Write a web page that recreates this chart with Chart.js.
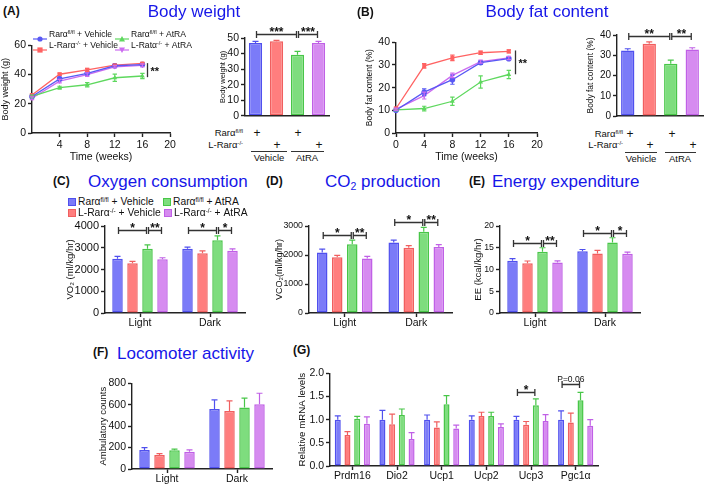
<!DOCTYPE html>
<html>
<head>
<meta charset="utf-8">
<script src="https://cdn.jsdelivr.net/npm/chart.js@4.4.1/dist/chart.umd.min.js"></script>
<style>
  body { margin: 0; width: 709px; height: 487px; position: relative; overflow: hidden; background: #fff;
         font-family: "Liberation Sans", Arial, sans-serif; color: #111; }
  canvas { position: absolute; }
  .t { position: absolute; white-space: nowrap; line-height: 1; }
  .h { color: #1616e8; font-size: 17px; }
  .p { font-weight: bold; font-size: 12px; }
  .sup { font-size: 0.62em; vertical-align: 0.5em; line-height: 0; }
  .sub { font-size: 0.62em; vertical-align: -0.3em; line-height: 0; }
  .ln { position: absolute; height: 1px; background: #333; }
  .bx { position: absolute; width: 6px; height: 6px; border: 1.5px solid; }
</style>
</head>
<body>
<script>
// ---- values ----
const groupNames = ['Rarα fl/fl + Vehicle', 'L-Rarα-/- + Vehicle', 'Rarα fl/fl + AtRA', 'L-Rarα-/- + AtRA'];
const weeks = [0, 4, 8, 12, 16];
const weekTicksA = [4, 8, 12, 16, 20];
const weekTicksB = [0, 4, 8, 12, 16, 20];

// (A) body weight (g) over time
const bwFlVeh = [25.0, 37.0, 40.8, 46.0, 46.8];
const bwKoVeh = [26.0, 40.2, 43.2, 46.5, 47.6];
const bwFlAtra = [25.0, 31.0, 33.0, 37.8, 39.0];
const bwKoAtra = [23.8, 35.5, 40.0, 45.3, 46.3];
const bwFlVehErr = [1.0, 1.2, 1.0, 0.8, 0.8];
const bwKoVehErr = [0.8, 0.8, 1.0, 0.6, 0.5];
const bwFlAtraErr = [1.0, 1.0, 1.5, 2.5, 1.8];
const bwKoAtraErr = [1.0, 1.2, 1.2, 0.8, 1.0];
// (A) final body weight
const bwFinal = [46.8, 47.9, 39.3, 46.8];
const bwFinalErr = [1.0, 0.6, 2.1, 1.0];

// (B) body fat content (%) over time
const fatFlVeh = [10.0, 18.0, 23.5, 31.0, 32.8];
const fatKoVeh = [10.8, 29.6, 33.1, 35.4, 36.0];
const fatFlAtra = [10.2, 10.8, 14.0, 22.5, 25.8];
const fatKoAtra = [10.5, 16.5, 25.4, 31.5, 33.1];
const fatFlVehErr = [0.5, 1.5, 2.0, 0.7, 0.7];
const fatKoVehErr = [0.6, 1.0, 1.2, 0.7, 0.7];
const fatFlAtraErr = [0.5, 1.0, 1.8, 2.7, 1.8];
const fatKoAtraErr = [0.5, 1.5, 1.0, 0.7, 0.7];
// (B) final body fat
const fatFinal = [32.4, 35.7, 25.8, 32.8];
const fatFinalErr = [0.8, 0.9, 1.8, 0.9];

const phases = ['Light', 'Dark'];
// (C) VO2, ml/kg/hr  (one value per group)
const vo2Light = [2496, 2285, 2950, 2466];
const vo2Dark = [2950, 2752, 3350, 2857];
const vo2LightErr = [105, 90, 180, 75];
const vo2DarkErr = [75, 105, 195, 90];
// (D) VCO2, ml/kg/hr
const vco2Light = [2090, 1920, 2375, 1880];
const vco2Dark = [2430, 2250, 2800, 2280];
const vco2LightErr = [110, 70, 135, 70];
const vco2DarkErr = [80, 70, 150, 80];
// (E) energy expenditure, kcal/kg/hr
const eeLight = [12.0, 11.45, 14.1, 11.6];
const eeDark = [14.2, 13.7, 16.2, 13.6];
const eeLightErr = [0.5, 0.5, 0.9, 0.4];
const eeDarkErr = [0.4, 0.7, 1.1, 0.4];
// (F) ambulatory counts
const ambLight = [177, 131, 174, 160];
const ambDark = [560, 541, 573, 604];
const ambLightErr = [22, 12, 12, 18];
const ambDarkErr = [85, 95, 88, 103];

// (G) relative mRNA levels
const genes = ['Prdm16', 'Dio2', 'Ucp1', 'Ucp2', 'Ucp3', 'Pgc1α'];
const mFlVeh = [1.0, 1.0, 1.0, 1.0, 1.0, 1.0];
const mKoVeh = [0.67, 0.9, 0.83, 1.08, 0.89, 0.94];
const mFlAtra = [1.02, 1.1, 1.33, 1.08, 1.31, 1.42];
const mKoAtra = [0.91, 0.58, 0.81, 0.84, 0.97, 0.87];
const mFlVehErr = [0.08, 0.2, 0.1, 0.08, 0.07, 0.19];
const mKoVehErr = [0.07, 0.22, 0.12, 0.08, 0.07, 0.2];
const mFlAtraErr = [0.05, 0.13, 0.19, 0.08, 0.14, 0.17];
const mKoAtraErr = [0.15, 0.14, 0.07, 0.07, 0.14, 0.13];

// ---- styles ----
const FONT = '"Liberation Sans", Arial, sans-serif';
const AX = '#222';
const fills = ['#7b7bf8', '#ff7e7e', '#7edd7e', '#d68bf0'];
const edges = ['#5050ee', '#f05f5f', '#48c648', '#c060e6'];
const lineCols = ['#5858f4', '#ff6262', '#5ed85e', '#cc6cf0'];
const pointStyles = ['circle', 'rect', 'triangle', 'triangle'];
const pointRot = [0, 0, 0, 180];

Chart.defaults.font.family = FONT;
Chart.defaults.color = '#111';
Chart.defaults.animation = false;
Chart.defaults.plugins.legend.display = false;
Chart.defaults.plugins.tooltip.enabled = false;

// ---- helpers ----
function T(html, x, y, cls, css, align) {
  const d = document.createElement('div');
  d.className = 't ' + cls;
  d.innerHTML = html;
  d.style.cssText += css || '';
  d.style.left = x + 'px';
  d.style.top = y + 'px';
  const tx = align === 'r' ? '-100%' : align === 'c' ? '-50%' : '0';
  d.style.transform = 'translate(' + tx + ',-50%)';
  document.body.appendChild(d);
}
function L(x1, x2, y) {
  const d = document.createElement('div');
  d.className = 'ln';
  d.style.left = x1 + 'px'; d.style.top = y + 'px'; d.style.width = (x2 - x1) + 'px';
  document.body.appendChild(d);
}
function B(x, y, i) {
  const d = document.createElement('div');
  d.className = 'bx';
  d.style.left = x + 'px'; d.style.top = (y - 4) + 'px';
  d.style.background = fills[i]; d.style.borderColor = edges[i];
  document.body.appendChild(d);
}
function M(x, y, i) {
  const shapes = [
    '<circle cx="7" cy="4" r="2.6" fill="' + lineCols[0] + '"/>',
    '<rect x="4.4" y="1.4" width="5.2" height="5.2" fill="' + lineCols[1] + '"/>',
    '<polygon points="7,1 10,6.5 4,6.5" fill="' + lineCols[2] + '"/>',
    '<polygon points="7,7 10,1.5 4,1.5" fill="' + lineCols[3] + '"/>'
  ];
  const d = document.createElement('div');
  d.className = 't';
  d.style.left = (x - 7) + 'px'; d.style.top = (y - 4) + 'px';
  d.innerHTML = '<svg width="14" height="8"><line x1="0" y1="4" x2="14" y2="4" stroke="' + lineCols[i] +
    '" stroke-width="1.2"/>' + shapes[i] + '</svg>';
  document.body.appendChild(d);
}
function canvasFor(box) {
  const c = document.createElement('canvas');
  const w = box.r - box.l + box.wy + box.pr;
  const h = box.b - box.t + box.pt + box.hx;
  c.width = w; c.height = h;
  c.style.left = (box.l - box.wy) + 'px';
  c.style.top = (box.t - box.pt) + 'px';
  c.style.width = w + 'px'; c.style.height = h + 'px';
  document.body.appendChild(c);
  return c;
}

// error bars, up only for bars, both ways for lines
function errorBars(errs, both, cap) {
  return {
    id: 'errs',
    afterDatasetsDraw(chart) {
      const ctx = chart.ctx, y = chart.scales.y;
      ctx.save();
      errs.forEach((e, i) => {
        const ds = chart.data.datasets[i];
        ctx.strokeStyle = both ? lineCols[i] : edges[i];
        ctx.lineWidth = 1.2;
        chart.getDatasetMeta(i).data.forEach((el, j) => {
          const v = typeof ds.data[j] === 'object' ? ds.data[j].y : ds.data[j];
          const top = y.getPixelForValue(v + e[j]);
          const bot = both ? y.getPixelForValue(v - e[j]) : el.y;
          ctx.beginPath();
          ctx.moveTo(el.x, bot); ctx.lineTo(el.x, top);
          ctx.moveTo(el.x - cap, top); ctx.lineTo(el.x + cap, top);
          if (both) { ctx.moveTo(el.x - cap, bot); ctx.lineTo(el.x + cap, bot); }
          ctx.stroke();
        });
      });
      ctx.restore();
    }
  };
}

// significance brackets between two bars of one category
function brackets(items) {
  return {
    id: 'sig',
    afterDatasetsDraw(chart) {
      const ctx = chart.ctx, y = chart.scales.y;
      ctx.save();
      ctx.strokeStyle = '#333'; ctx.fillStyle = '#111'; ctx.lineWidth = 1.3;
      ctx.textAlign = 'center';
      items.forEach(b => {
        const x1 = chart.getDatasetMeta(b.a).data[b.cat].x + 1;
        const x2 = chart.getDatasetMeta(b.b).data[b.cat].x - 1;
        const py = Math.round(y.getPixelForValue(b.y)) + 0.5;
        ctx.beginPath();
        ctx.moveTo(x1, py); ctx.lineTo(x2, py);
        ctx.moveTo(x1, py - 3.5); ctx.lineTo(x1, py + 3.5);
        ctx.moveTo(x2, py - 3.5); ctx.lineTo(x2, py + 3.5);
        ctx.stroke();
        if (b.text[0] === 'P') {
          ctx.font = '8.5px ' + FONT;
          ctx.fillText(b.text, (x1 + x2) / 2, py - 3);
        } else {
          ctx.font = 'bold 12px ' + FONT;
          ctx.fillText(b.text, (x1 + x2) / 2, py + 1.5);
        }
      });
      ctx.restore();
    }
  };
}

// vertical bracket at the end of line charts
function sideBracket(xv, y1, y2, text) {
  return {
    id: 'side',
    afterDatasetsDraw(chart) {
      const ctx = chart.ctx, x = chart.scales.x, y = chart.scales.y;
      const px = Math.round(x.getPixelForValue(xv)) + 0.5;
      const a = y.getPixelForValue(y1), b = y.getPixelForValue(y2);
      ctx.save();
      ctx.strokeStyle = '#333'; ctx.lineWidth = 1.3;
      ctx.beginPath(); ctx.moveTo(px, a); ctx.lineTo(px, b); ctx.stroke();
      ctx.fillStyle = '#111'; ctx.font = 'bold 11px ' + FONT; ctx.textAlign = 'left';
      ctx.fillText(text, px + 3, (a + b) / 2 + 5);
      ctx.restore();
    }
  };
}

function yAxis(box, min, max, step, fs, title, tfs, fmt) {
  return {
    min: min, max: max,
    afterFit: s => { s.width = box.wy; },
    border: { color: AX, width: 1.4 },
    grid: { drawOnChartArea: false, tickLength: 4, tickWidth: 1.4, tickColor: AX },
    ticks: { stepSize: step, font: { size: fs }, padding: 2, color: '#111', callback: fmt || (v => String(v)) },
    title: { display: true, text: title, font: { size: tfs }, padding: 0, color: '#111' }
  };
}
function xCat(box, show) {
  return {
    type: 'category', offset: true,
    afterFit: s => { s.height = box.hx; },
    border: { color: AX, width: 1.4 },
    grid: { drawOnChartArea: false, offset: false, drawTicks: show, tickLength: 4, tickWidth: 1.4, tickColor: AX },
    ticks: { display: show, font: { size: 10.5 }, padding: 0, color: '#111' }
  };
}
function xWeeks(box, tickVals) {
  return {
    type: 'linear', min: 0, max: 20,
    afterFit: s => { s.height = box.hx; },
    afterBuildTicks: s => { s.ticks = tickVals.map(v => ({ value: v })); },
    border: { color: AX, width: 1.4 },
    grid: { drawOnChartArea: false, tickLength: 4, tickWidth: 1.4, tickColor: AX },
    ticks: { font: { size: 10.5 }, padding: 2, color: '#111', callback: v => String(v) },
    title: { display: true, text: 'Time (weeks)', font: { size: 10.5 }, padding: { top: 0, bottom: 1 }, color: '#111' }
  };
}

function lineChart(box, series, errs, ymax, ystep, ytitle, tfs, tickVals, side) {
  new Chart(canvasFor(box), {
    type: 'line',
    data: {
      datasets: series.map((s, i) => ({
        label: groupNames[i],
        data: s.map((v, j) => ({ x: weeks[j], y: v })),
        borderColor: lineCols[i], backgroundColor: lineCols[i], borderWidth: 1.3,
        pointStyle: pointStyles[i], rotation: pointRot[i], pointRadius: 2.8, pointBorderWidth: 0,
        clip: false
      }))
    },
    options: {
      responsive: false,
      layout: { padding: { top: box.pt, right: box.pr, left: 0, bottom: 0 }, autoPadding: false },
      scales: { x: xWeeks(box, tickVals), y: yAxis(box, 0, ymax, ystep, 10.5, ytitle, tfs) }
    },
    plugins: [errorBars(errs, true, 2.2), side]
  });
}

function barChart(box, labels, series, errs, ymax, ystep, fs, ytitle, tfs, catPct, barPct, sig, showX, fmt) {
  new Chart(canvasFor(box), {
    type: 'bar',
    data: {
      labels: labels,
      datasets: series.map((s, i) => ({
        label: groupNames[i], data: s,
        backgroundColor: fills[i], borderColor: edges[i], borderWidth: 1.5, borderSkipped: false,
        categoryPercentage: catPct, barPercentage: barPct
      }))
    },
    options: {
      responsive: false,
      layout: { padding: { top: box.pt, right: box.pr, left: 0, bottom: 0 }, autoPadding: false },
      scales: { x: xCat(box, showX), y: yAxis(box, 0, ymax, ystep, fs, ytitle, tfs, fmt) }
    },
    plugins: [errorBars(errs, false, 3), brackets(sig)]
  });
}
const byGroup = (a, b) => a.map((v, i) => [v, b[i]]);
const single = a => a.map(v => [v]);

// ---- (A) ----
lineChart({ l: 32, r: 170, t: 43, b: 133, wy: 32, hx: 31, pt: 6, pr: 10 },
  [bwFlVeh, bwKoVeh, bwFlAtra, bwKoAtra], [bwFlVehErr, bwKoVehErr, bwFlAtraErr, bwKoAtraErr],
  60, 20, 'Body weight (g)', 9, weekTicksA, sideBracket(16.6, 47.8, 38.2, '**'));
barChart({ l: 245, r: 329, t: 38, b: 122, wy: 27, hx: 2, pt: 18, pr: 3 },
  ['wk16'], single(bwFinal), single(bwFinalErr), 50, 10, 10.5, 'Body weight (g)', 7.5, 1, 0.63,
  [{ cat: 0, a: 0, b: 2, y: 52.6, text: '***' }, { cat: 0, a: 2, b: 3, y: 52.6, text: '***' }], false);

// ---- (B) ----
lineChart({ l: 396, r: 537, t: 40, b: 133, wy: 31, hx: 31, pt: 6, pr: 10 },
  [fatFlVeh, fatKoVeh, fatFlAtra, fatKoAtra], [fatFlVehErr, fatKoVehErr, fatFlAtraErr, fatKoAtraErr],
  40, 10, 'Body fat content (%)', 8.5, weekTicksB, sideBracket(16.9, 36.4, 25.9, '**'));
barChart({ l: 617, r: 703, t: 35, b: 122, wy: 31, hx: 2, pt: 16, pr: 4 },
  ['wk16'], single(fatFinal), single(fatFinalErr), 40, 10, 10, 'Body fat content (%)', 8.4, 1, 0.62,
  [{ cat: 0, a: 0, b: 2, y: 39.7, text: '**' }, { cat: 0, a: 2, b: 3, y: 39.7, text: '**' }], false);

// ---- (C) (D) (E) ----
barChart({ l: 105, r: 245, t: 226, b: 313, wy: 40, hx: 20, pt: 14, pr: 2 },
  phases, byGroup(vo2Light, vo2Dark), byGroup(vo2LightErr, vo2DarkErr), 4000, 1000, 11, 'VO₂ (ml/kg/hr)', 9.5, 0.857, 0.7,
  [{ cat: 0, a: 0, b: 2, y: 3800, text: '*' }, { cat: 0, a: 2, b: 3, y: 3800, text: '**' },
   { cat: 1, a: 0, b: 2, y: 3800, text: '*' }, { cat: 1, a: 2, b: 3, y: 3800, text: '*' }], true);
barChart({ l: 309, r: 452, t: 226, b: 313, wy: 35, hx: 20, pt: 18, pr: 2 },
  phases, byGroup(vco2Light, vco2Dark), byGroup(vco2LightErr, vco2DarkErr), 3000, 1000, 8.8, 'VCO₂(ml/kg/hr)', 9, 0.84, 0.7,
  [{ cat: 0, a: 0, b: 2, y: 2690, text: '*' }, { cat: 0, a: 2, b: 3, y: 2690, text: '**' },
   { cat: 1, a: 0, b: 2, y: 3150, text: '*' }, { cat: 1, a: 2, b: 3, y: 3150, text: '**' }], true);
barChart({ l: 500, r: 640, t: 226, b: 313, wy: 27, hx: 20, pt: 14, pr: 4 },
  phases, byGroup(eeLight, eeDark), byGroup(eeLightErr, eeDarkErr), 20, 5, 8.8, 'EE (kcal/kg/hr)', 9.5, 0.857, 0.7,
  [{ cat: 0, a: 0, b: 2, y: 16.1, text: '*' }, { cat: 0, a: 2, b: 3, y: 16.1, text: '**' },
   { cat: 1, a: 0, b: 2, y: 18.4, text: '*' }, { cat: 1, a: 2, b: 3, y: 18.4, text: '*' }], true);

// ---- (F) (G) ----
barChart({ l: 132, r: 272, t: 383, b: 469, wy: 34, hx: 18, pt: 8, pr: 4 },
  phases, byGroup(ambLight, ambDark), byGroup(ambLightErr, ambDarkErr), 800, 200, 10.5, 'Ambulatory counts', 9.5, 0.857, 0.7,
  [], true);
barChart({ l: 330, r: 598, t: 373, b: 466, wy: 33, hx: 20, pt: 8, pr: 4 },
  genes, [mFlVeh, mKoVeh, mFlAtra, mKoAtra], [mFlVehErr, mKoVehErr, mFlAtraErr, mKoAtraErr], 2, 0.5, 10.5,
  'Relative mRNA levels', 9.7, 0.87, 0.62,
  [{ cat: 4, a: 0, b: 2, y: 1.59, text: '*' }, { cat: 5, a: 0, b: 2, y: 1.76, text: 'P=0.06' }], true,
  v => v.toFixed(1));

// ---- text: panel letters, titles, legends, genotype rows ----
const fl = 'Rarα<span class="sup">fl/fl</span>';
const ko = 'L-Rarα<span class="sup">-/-</span>';
T('(A)', 3, 11, 'p', '', 'l'); T('Body weight', 194, 11, 'h', '', 'c');
T('(B)', 357, 12, 'p', '', 'l'); T('Body fat content', 547, 11, 'h', '', 'c');
T('(C)', 53, 181, 'p', '', 'l'); T('Oxygen consumption', 88, 181, 'h', '', 'l');
T('(D)', 266, 181, 'p', '', 'l'); T('CO<span class="sub">2</span> production', 325, 181, 'h', '', 'l');
T('(E)', 469, 181, 'p', '', 'l'); T('Energy expenditure', 492, 181, 'h', '', 'l');
T('(F)', 93, 352, 'p', '', 'l'); T('Locomoter activity', 117, 353, 'h', '', 'l');
T('(G)', 293, 350, 'p', '', 'l');

// A legend
const lf = 'font-size:8.6px;';
M(40, 34, 0); T(fl + ' + Vehicle', 49, 34, '', lf, 'l');
M(122, 34, 2); T(fl + ' + AtRA', 131, 34, '', lf, 'l');
M(40, 45, 1); T(ko + ' + Vehicle', 49, 45, '', lf, 'l');
M(122, 45, 3); T('L-Ratα<span class="sup">-/-</span> + AtRA', 131, 45, '', lf, 'l');

// C legend
const cf = 'font-size:10.3px;';
B(68, 202, 0); T(fl + ' + Vehicle', 78, 202, '', cf, 'l');
B(163, 202, 2); T(fl + ' + AtRA', 173, 202, '', cf, 'l');
B(68, 213, 1); T(ko + ' + Vehicle', 78, 213, '', cf, 'l');
B(164, 213, 3); T(ko + ' + AtRA', 174, 213, '', cf, 'l');

// genotype rows under A and B bar charts
const rf = 'font-size:9.5px;', pf = 'font-size:12px;';
T(fl, 243, 133, '', rf, 'r'); T('+', 257, 133, '', pf, 'c'); T('+', 298, 133, '', pf, 'c');
T(ko, 243, 145, '', rf, 'r'); T('+', 277, 145, '', pf, 'c'); T('+', 319, 145, '', pf, 'c');
L(251, 287, 151); L(291, 324, 151);
T('Vehicle', 269, 158, '', rf, 'c'); T('AtRA', 307, 158, '', rf, 'c');

T(fl, 623, 134, '', rf, 'r'); T('+', 630, 134, '', pf, 'c'); T('+', 672, 134, '', pf, 'c');
T(ko, 623, 145, '', rf, 'r'); T('+', 650, 145, '', pf, 'c'); T('+', 693, 145, '', pf, 'c');
L(625, 657, 152); L(665, 696, 152);
T('Vehicle', 641, 159, '', rf, 'c'); T('AtRA', 680, 159, '', rf, 'c');
</script>
</body>
</html>
